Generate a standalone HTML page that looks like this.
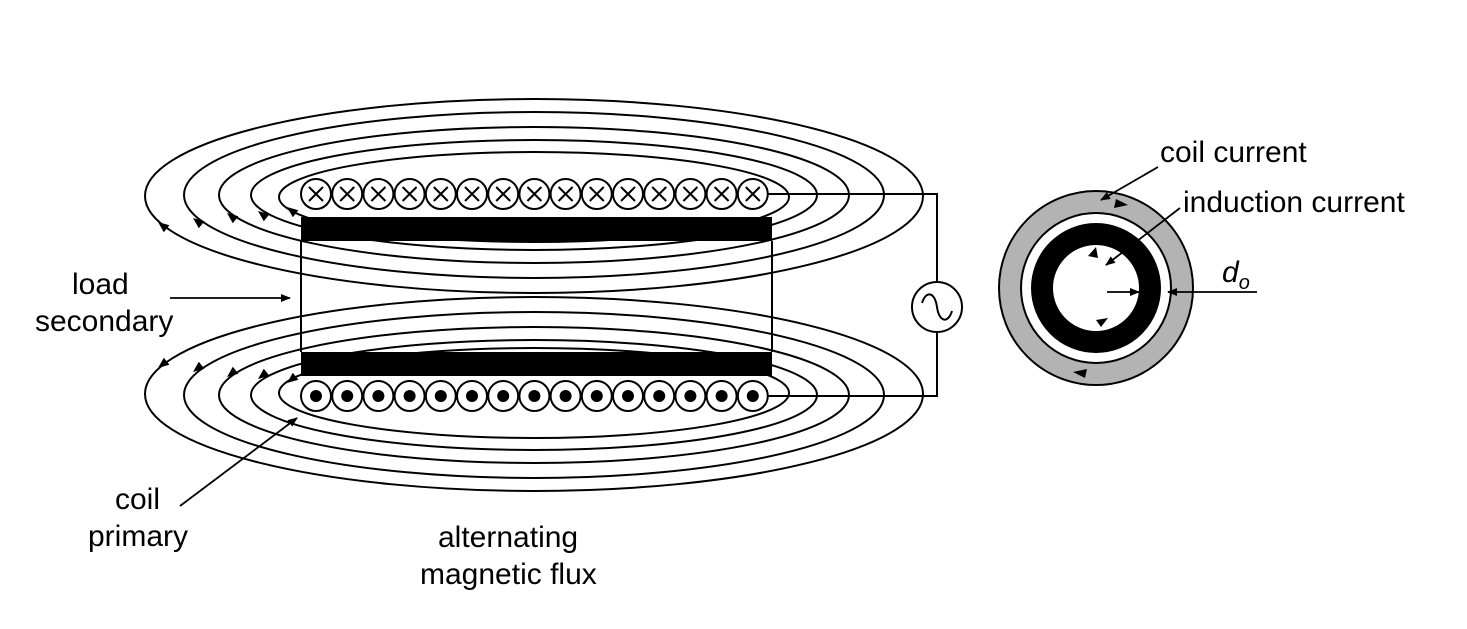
<!DOCTYPE html>
<html><head><style>
body{margin:0;background:#fff}
svg{display:block}
text{font-family:"Liberation Sans",Arial,sans-serif;font-size:30px;fill:#000}
</style></head><body>
<svg width="1467" height="629" viewBox="0 0 1467 629" xmlns="http://www.w3.org/2000/svg">
<defs>
<g id="cx"><circle r="15" fill="#fff" stroke="#000" stroke-width="2"/><path d="M-7,-7L7,7M7,-7L-7,7" stroke="#000" stroke-width="2"/></g>
<g id="cd"><circle r="15" fill="#fff" stroke="#000" stroke-width="2"/><circle r="6" fill="#000"/></g>
<marker id="ah" markerWidth="10" markerHeight="8" refX="9" refY="4" orient="auto" markerUnits="userSpaceOnUse"><path d="M0,0L10,4L0,8z" fill="#000"/></marker>
</defs>
<g fill="none" stroke="#000" stroke-width="2">
<ellipse cx="534" cy="196" rx="389" ry="97"/>
<ellipse cx="534" cy="195" rx="350" ry="83"/>
<ellipse cx="534" cy="195" rx="315" ry="68"/>
<ellipse cx="534" cy="195" rx="283" ry="55"/>
<ellipse cx="534" cy="197" rx="255" ry="45"/>
<ellipse cx="534" cy="394" rx="389" ry="97"/>
<ellipse cx="534" cy="395" rx="350" ry="83"/>
<ellipse cx="534" cy="395" rx="315" ry="68"/>
<ellipse cx="534" cy="395" rx="283" ry="55"/>
<ellipse cx="534" cy="393" rx="255" ry="45"/>
<path d="M301,241V352M772,241V352"/>
<path d="M768,194H937V282M937,332V396H768"/>
<circle cx="937" cy="307" r="25" fill="#fff"/>
<path d="M922,303C926,290 935,292 937,307S948,324 952,311"/>
</g>
<rect x="301" y="217" width="471" height="24" fill="#000"/>
<rect x="301" y="352" width="471" height="24" fill="#000"/>
<g fill="#000">
<path d="M158,222l11.4,3.3l-5.6,7z"/>
<path d="M193,218l11.4,3.3l-5.6,7z"/>
<path d="M227,213l11.4,3.3l-5.6,7z"/>
<path d="M258,211l11.4,3.3l-5.6,7z"/>
<path d="M287,207l11.4,3.3l-5.6,7z"/>
<path d="M158,368l11.4,-3.3l-5.6,-7z"/>
<path d="M193,372l11.4,-3.3l-5.6,-7z"/>
<path d="M227,377l11.4,-3.3l-5.6,-7z"/>
<path d="M258,379l11.4,-3.3l-5.6,-7z"/>
<path d="M287,383l11.4,-3.3l-5.6,-7z"/>
</g>
<g transform="translate(0,194)">
<use href="#cx" x="316"/><use href="#cx" x="347.2"/><use href="#cx" x="378.4"/><use href="#cx" x="409.6"/><use href="#cx" x="440.8"/><use href="#cx" x="472"/><use href="#cx" x="503.2"/><use href="#cx" x="534.4"/><use href="#cx" x="565.6"/><use href="#cx" x="596.8"/><use href="#cx" x="628"/><use href="#cx" x="659.2"/><use href="#cx" x="690.4"/><use href="#cx" x="721.6"/><use href="#cx" x="752.8"/>
</g>
<g transform="translate(0,396)">
<use href="#cd" x="316"/><use href="#cd" x="347.2"/><use href="#cd" x="378.4"/><use href="#cd" x="409.6"/><use href="#cd" x="440.8"/><use href="#cd" x="472"/><use href="#cd" x="503.2"/><use href="#cd" x="534.4"/><use href="#cd" x="565.6"/><use href="#cd" x="596.8"/><use href="#cd" x="628"/><use href="#cd" x="659.2"/><use href="#cd" x="690.4"/><use href="#cd" x="721.6"/><use href="#cd" x="752.8"/>
</g>
<g stroke="#000" stroke-width="1.8" fill="none">
<path d="M170,298H290" marker-end="url(#ah)"/>
<path d="M180,506L297,418" marker-end="url(#ah)"/>
</g>
<text x="72" y="294">load</text>
<text x="35" y="331">secondary</text>
<text x="115" y="509">coil</text>
<text x="88" y="546">primary</text>
<text x="438" y="547">alternating</text>
<text x="420" y="584">magnetic flux</text>
<circle cx="1096" cy="288" r="97" fill="#b3b3b3" stroke="#000" stroke-width="2"/>
<circle cx="1096" cy="288" r="75" fill="#fff" stroke="#000" stroke-width="2"/>
<circle cx="1096" cy="288" r="54" fill="none" stroke="#000" stroke-width="22"/>
<g fill="#000">
<path d="M1116,199l12,6l-14,3z"/>
<path d="M1085,378l-12,-6l14,-3z"/>
<path d="M1088,256l8,-9l2,11z"/>
<path d="M1096,320l12,-2l-7,9z"/>
</g>
<g stroke="#000" stroke-width="1.8" fill="none">
<path d="M1158,167L1101,200" marker-end="url(#ah)"/>
<path d="M1180,208L1106,265" marker-end="url(#ah)"/>
<path d="M1107,292H1139" marker-end="url(#ah)"/>
<path d="M1257,292H1168" marker-end="url(#ah)"/>
</g>
<text x="1160" y="162">coil current</text>
<text x="1183" y="212">induction current</text>
<text x="1222" y="282" font-style="italic">d<tspan font-size="20" dy="7">o</tspan></text>
</svg>
</body></html>
